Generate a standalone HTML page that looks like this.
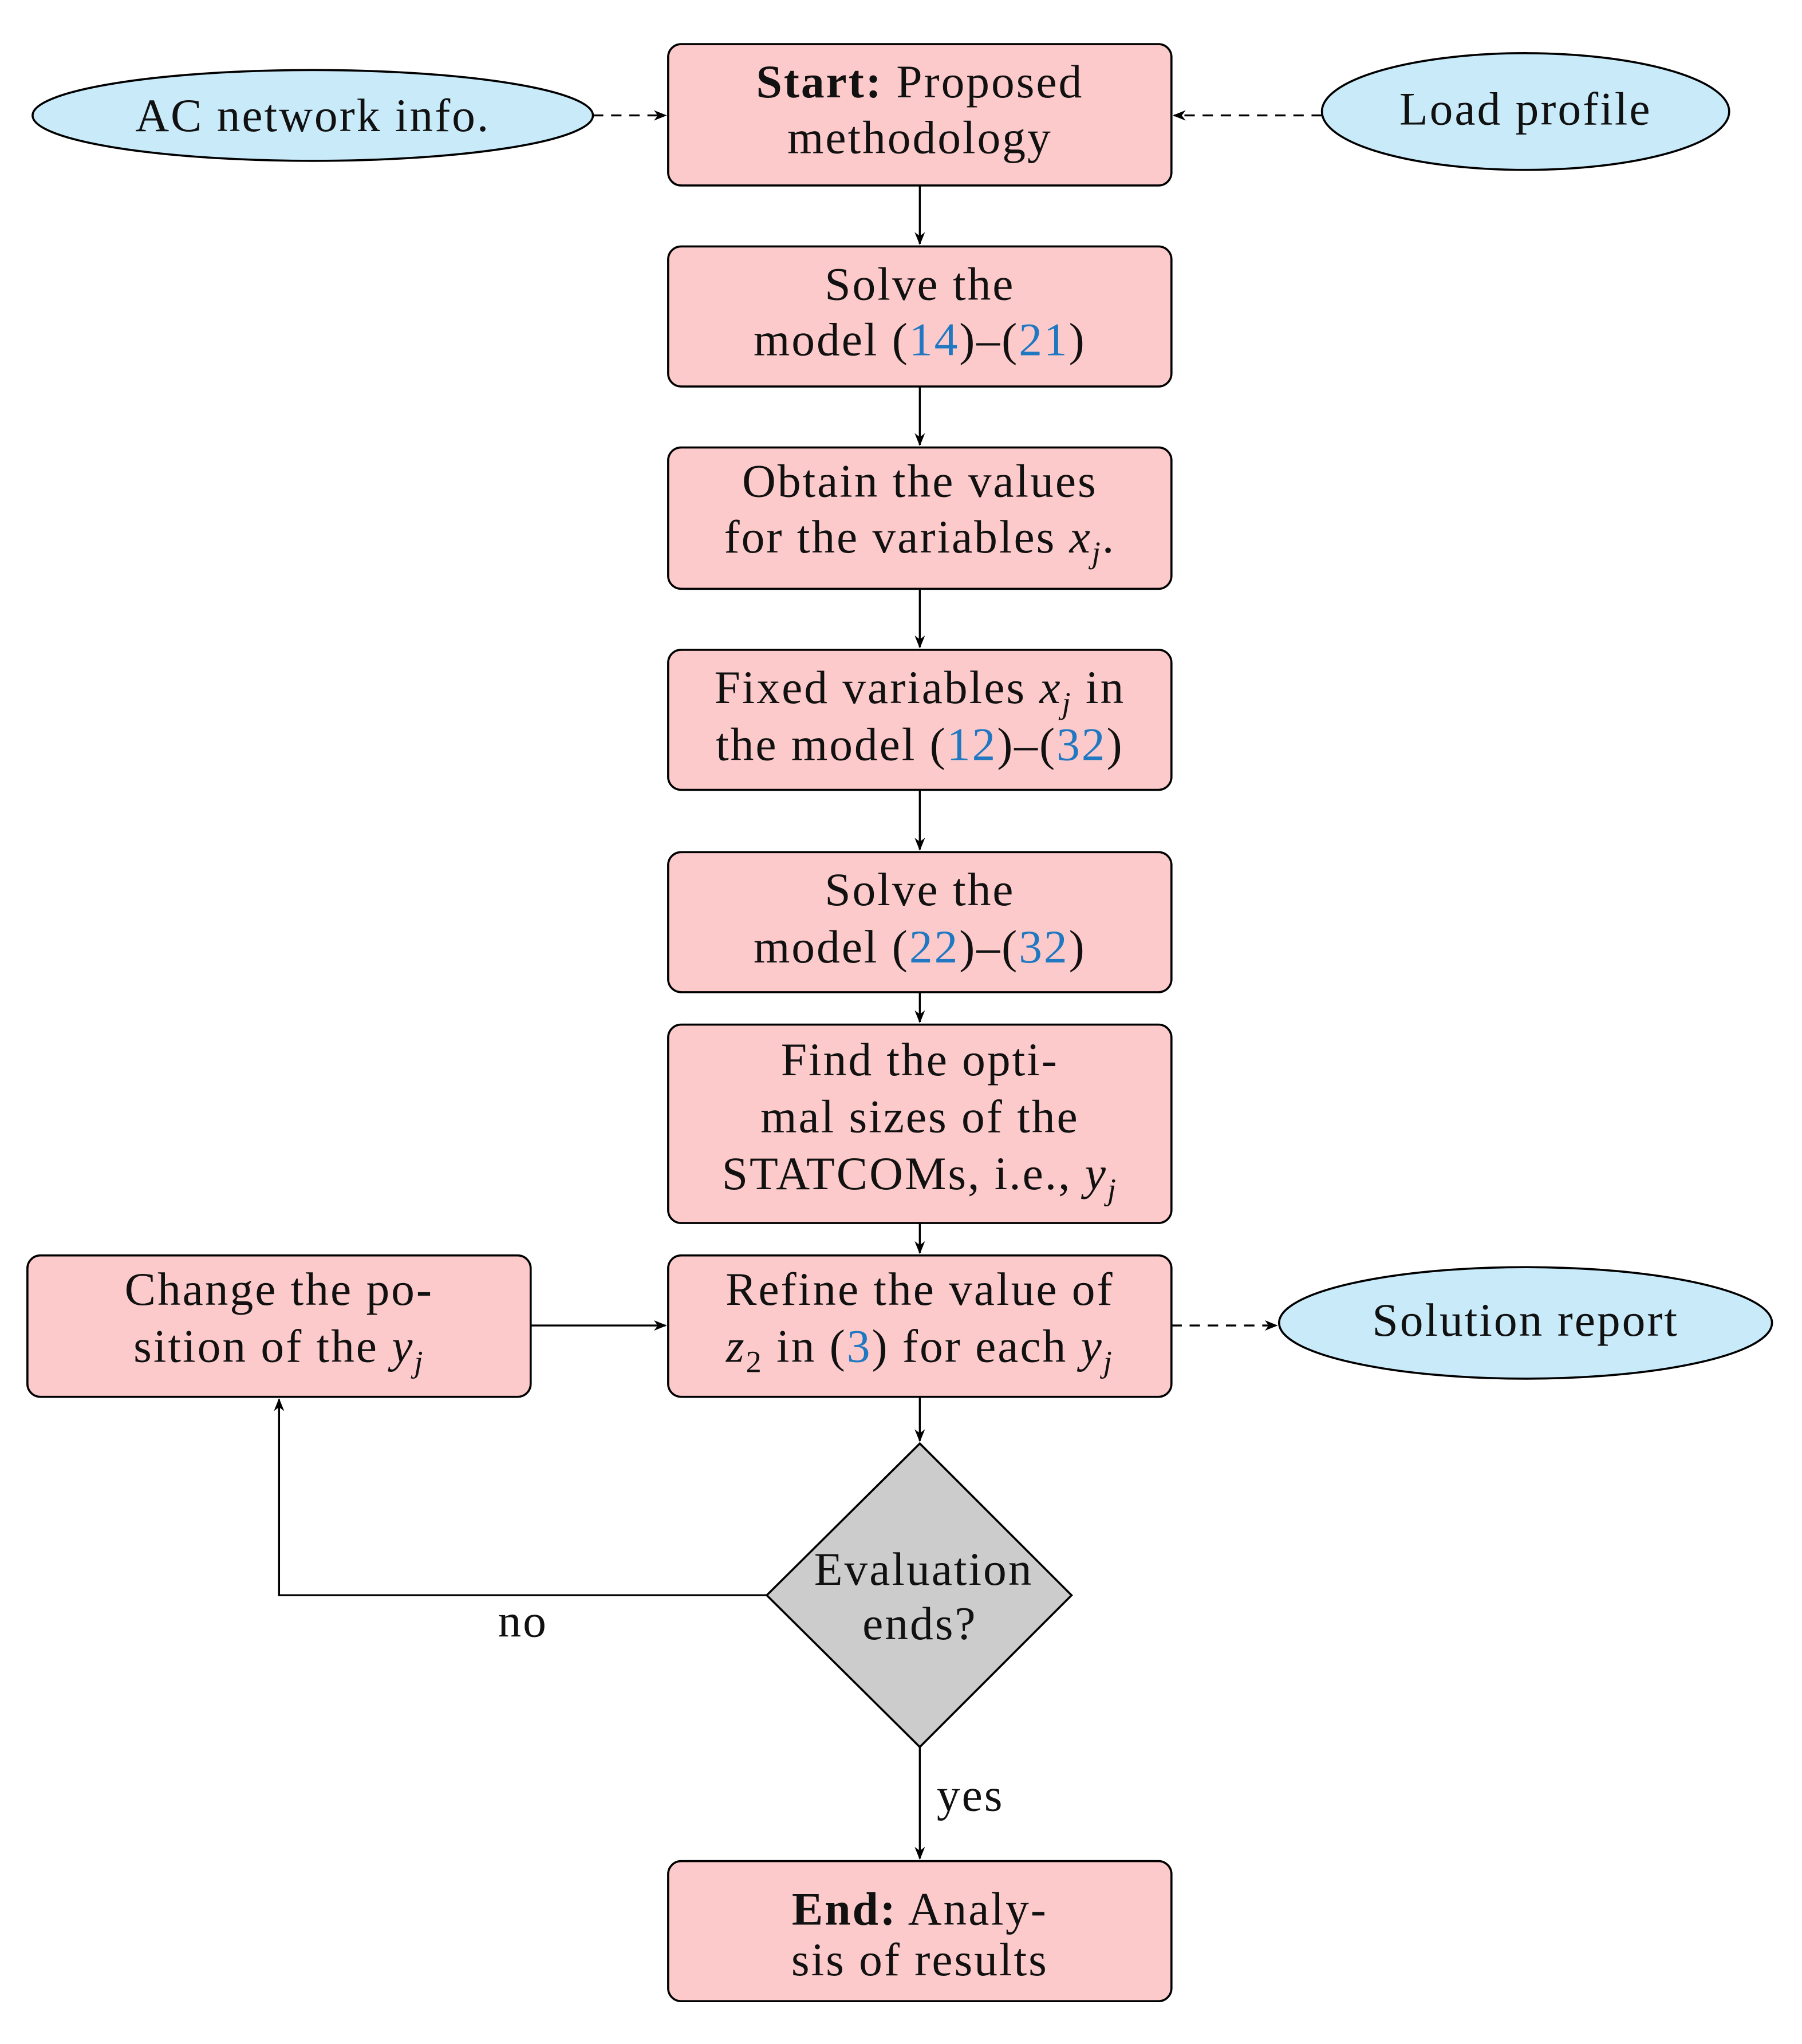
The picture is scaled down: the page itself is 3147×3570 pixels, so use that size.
<!DOCTYPE html>
<html><head><meta charset="utf-8"><style>
html,body{margin:0;padding:0;background:#fff;}
svg{display:block;}
text{font-family:"Liberation Serif",serif;font-size:36px;letter-spacing:1.3px;fill:#111;}
.b{fill:#fccaca;stroke:#000;stroke-width:1.6;}
.e{fill:#c8eaf9;stroke:#000;stroke-width:1.6;}
.l{stroke:#000;stroke-width:1.5;fill:none;}
.d{stroke:#000;stroke-width:1.5;fill:none;stroke-dasharray:8,6;}
.c{fill:#1f78c1;}
</style></head><body>
<svg width="3147" height="3570" viewBox="0 0 1389 1576" xmlns="http://www.w3.org/2000/svg">
<defs><marker id="a" markerWidth="10" markerHeight="8" refX="9" refY="4" orient="auto" markerUnits="userSpaceOnUse"><path d="M0,0 L10,4 L0,8 L3,4 Z" fill="#000"/></marker></defs>
<rect class="b" x="515" y="34" width="388" height="109" rx="10"/>
<rect class="b" x="515" y="190" width="388" height="108" rx="10"/>
<rect class="b" x="515" y="345" width="388" height="109" rx="10"/>
<rect class="b" x="515" y="501" width="388" height="108" rx="10"/>
<rect class="b" x="515" y="657" width="388" height="108" rx="10"/>
<rect class="b" x="515" y="790" width="388" height="153" rx="10"/>
<rect class="b" x="515" y="968" width="388" height="109" rx="10"/>
<rect class="b" x="21" y="968" width="388" height="109" rx="10"/>
<rect class="b" x="515" y="1435" width="388" height="108" rx="10"/>
<polygon points="709,1113 826,1230 709,1347 591,1230" fill="#cccccc" stroke="#000" stroke-width="1.6"/>
<ellipse class="e" cx="241" cy="89" rx="216" ry="35"/>
<ellipse class="e" cx="1176" cy="86" rx="157" ry="45"/>
<ellipse class="e" cx="1176" cy="1020" rx="190" ry="43"/>
<line class="l" x1="709" y1="143" x2="709" y2="188" marker-end="url(#a)"/>
<line class="l" x1="709" y1="298" x2="709" y2="343" marker-end="url(#a)"/>
<line class="l" x1="709" y1="454" x2="709" y2="499" marker-end="url(#a)"/>
<line class="l" x1="709" y1="609" x2="709" y2="655" marker-end="url(#a)"/>
<line class="l" x1="709" y1="765" x2="709" y2="788" marker-end="url(#a)"/>
<line class="l" x1="709" y1="943" x2="709" y2="966" marker-end="url(#a)"/>
<line class="l" x1="709" y1="1077" x2="709" y2="1111" marker-end="url(#a)"/>
<line class="l" x1="709" y1="1347" x2="709" y2="1433" marker-end="url(#a)"/>
<line class="l" x1="409" y1="1022" x2="513" y2="1022" marker-end="url(#a)"/>
<polyline class="l" points="591,1230 215,1230 215,1079" marker-end="url(#a)"/>
<line class="d" x1="457" y1="89" x2="513" y2="89" marker-end="url(#a)"/>
<line class="d" x1="1019" y1="89" x2="905" y2="89" marker-end="url(#a)"/>
<line class="d" x1="903" y1="1022" x2="984" y2="1022" marker-end="url(#a)"/>
<g text-anchor="middle">
<text x="709" y="75"><tspan font-weight="bold">Start:</tspan> Proposed</text>
<text x="709" y="118">methodology</text>
<text x="709" y="231">Solve the</text>
<text x="709" y="274">model (<tspan class="c">14</tspan>)–(<tspan class="c">21</tspan>)</text>
<text x="709" y="383">Obtain the values</text>
<text x="709" y="426">for the variables <tspan font-style="italic">x</tspan><tspan font-style="italic" font-size="24" dy="8">j</tspan><tspan dy="-8">.</tspan></text>
<text x="709" y="542">Fixed variables <tspan font-style="italic">x</tspan><tspan font-style="italic" font-size="24" dy="8">j</tspan><tspan dy="-8"> in</tspan></text>
<text x="709" y="586">the model (<tspan class="c">12</tspan>)–(<tspan class="c">32</tspan>)</text>
<text x="709" y="698">Solve the</text>
<text x="709" y="742">model (<tspan class="c">22</tspan>)–(<tspan class="c">32</tspan>)</text>
<text x="709" y="829">Find the opti-</text>
<text x="709" y="873">mal sizes of the</text>
<text x="709" y="917">STATCOMs, i.e., <tspan font-style="italic">y</tspan><tspan font-style="italic" font-size="24" dy="8">j</tspan></text>
<text x="709" y="1006">Refine the value of</text>
<text x="709" y="1050"><tspan font-style="italic">z</tspan><tspan font-size="24" dy="8">2</tspan><tspan dy="-8"> in (</tspan><tspan class="c">3</tspan>) for each <tspan font-style="italic">y</tspan><tspan font-style="italic" font-size="24" dy="8">j</tspan></text>
<text x="215" y="1006">Change the po-</text>
<text x="215" y="1050">sition of the <tspan font-style="italic">y</tspan><tspan font-style="italic" font-size="24" dy="8">j</tspan></text>
<text x="712" y="1222">Evaluation</text>
<text x="709" y="1264">ends?</text>
<text x="709" y="1484"><tspan font-weight="bold">End:</tspan> Analy-</text>
<text x="709" y="1523">sis of results</text>
<text x="241" y="101">AC network info.</text>
<text x="1176" y="96">Load profile</text>
<text x="1176" y="1030">Solution report</text>
<text x="403" y="1262">no</text>
<text x="748" y="1396">yes</text>
</g>
</svg>
</body></html>
